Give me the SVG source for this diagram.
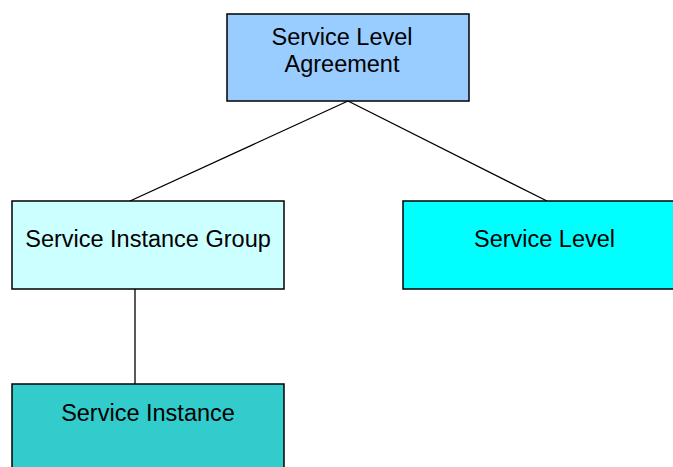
<svg xmlns="http://www.w3.org/2000/svg" width="673" height="467" viewBox="0 0 673 467">
<style>
.box{stroke:#000;stroke-width:1.5}
.t{font-family:"Liberation Sans",Arial,sans-serif;font-size:23.5px;fill:#000;text-anchor:middle}
.c{stroke:#000;stroke-width:1.3;fill:none}
</style>
<rect width="673" height="467" fill="#fff"/>
<g id="connectors">
<line class="c" x1="348" y1="101" x2="130" y2="201"/>
<line class="c" x1="348" y1="101" x2="547" y2="201"/>
<line class="c" x1="135" y1="289" x2="135" y2="384"/>
</g>
<g id="sla">
<rect class="box" x="227" y="14" width="242" height="87" fill="#99ccff"/>
<text class="t" x="342" y="45">Service Level</text>
<text class="t" x="342" y="72">Agreement</text>
</g>
<g id="sig">
<rect class="box" x="12" y="201" width="272" height="88" fill="#ccffff"/>
<text class="t" x="148" y="247">Service Instance Group</text>
</g>
<g id="sl">
<rect class="box" x="403" y="201" width="283" height="88" fill="#00ffff"/>
<text class="t" x="544.5" y="247">Service Level</text>
</g>
<g id="si">
<rect class="box" x="12" y="384" width="272" height="100" fill="#33cccc"/>
<text class="t" x="148" y="421">Service Instance</text>
</g>
</svg>
